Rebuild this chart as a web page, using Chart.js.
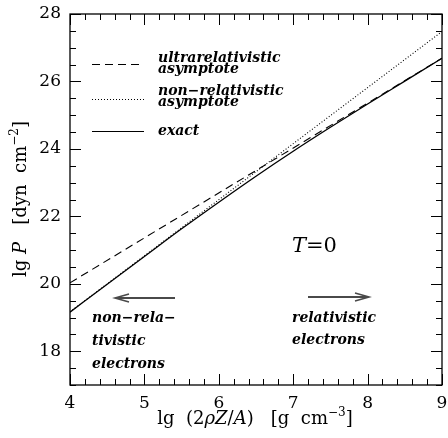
<!DOCTYPE html>
<html>
<head>
<meta charset="utf-8">
<script src="https://cdn.jsdelivr.net/npm/chart.js@4"></script>
<style>
  html, body { margin: 0; padding: 0; background: #fff; }
  canvas { display: block; }
</style>
</head>
<body>
<canvas id="eosChart" width="448" height="438"></canvas>
<script>
// lg(2 rho Z / A) sample points and lg P values
const lgRho = [4, 4.5, 5, 5.5, 6, 6.5, 7, 7.5, 8, 8.5, 9];
const exactP = [19.16, 19.99, 20.81, 21.63, 22.42, 23.19, 23.93, 24.64, 25.33, 26.01, 26.69];

// asymptotes are straight lines, so two points each
const asymRho = [4, 9];
const ultraP = [20.03, 26.69];
const nonRelP = [19.17, 27.48];

const xTicks = [4, 5, 6, 7, 8, 9];
const yTicks = [18, 20, 22, 24, 26, 28];

const SERIF = '"DejaVu Serif", serif';

function toPoints(xs, ys) {
  return xs.map((x, i) => ({ x: x, y: ys[i] }));
}

// draw a row of text pieces with different fonts
function drawParts(ctx, parts, x, y, align) {
  let total = 0;
  parts.forEach((p) => {
    ctx.font = p.font;
    p.w = ctx.measureText(p.text).width;
    total += p.w;
  });
  let cx = align === "center" ? x - total / 2 : x;
  parts.forEach((p) => {
    ctx.font = p.font;
    ctx.fillText(p.text, cx, y + (p.dy || 0));
    cx += p.w;
  });
}

function drawArrow(ctx, x1, x2, y) {
  const dir = x2 > x1 ? 1 : -1;
  ctx.save();
  ctx.strokeStyle = "#4a4a4a";
  ctx.lineWidth = 2.2;
  ctx.beginPath();
  ctx.moveTo(x1, y);
  ctx.lineTo(x2 - dir * 2, y);
  ctx.stroke();
  ctx.lineWidth = 1.6;
  ctx.beginPath();
  ctx.moveTo(x2 - dir * 14, y - 4);
  ctx.lineTo(x2, y);
  ctx.lineTo(x2 - dir * 14, y + 4);
  ctx.stroke();
  ctx.restore();
}

const framePlugin = {
  id: "frame",
  afterDraw(chart) {
    const ctx = chart.ctx;
    const area = chart.chartArea;
    const xs = chart.scales.x;
    const ys = chart.scales.y;

    ctx.save();
    ctx.strokeStyle = "#000";
    ctx.lineWidth = 1.3;
    ctx.setLineDash([]);
    ctx.strokeRect(area.left, area.top, area.right - area.left, area.bottom - area.top);

    // inward ticks on all four sides
    ctx.lineWidth = 1;
    ctx.beginPath();
    for (let i = 0; i <= 25; i++) {
      const v = 4 + i * 0.2;
      const px = Math.round(xs.getPixelForValue(v)) + 0.5;
      const len = i % 5 === 0 ? 11 : 6;
      ctx.moveTo(px, area.bottom);
      ctx.lineTo(px, area.bottom - len);
      ctx.moveTo(px, area.top);
      ctx.lineTo(px, area.top + len);
    }
    for (let i = 0; i <= 22; i++) {
      const v = 17 + i * 0.5;
      const py = Math.round(ys.getPixelForValue(v)) + 0.5;
      const len = v % 2 === 0 ? 11 : 6;
      ctx.moveTo(area.left, py);
      ctx.lineTo(area.left + len, py);
      ctx.moveTo(area.right, py);
      ctx.lineTo(area.right - len, py);
    }
    ctx.stroke();

    ctx.fillStyle = "#000";
    ctx.textBaseline = "alphabetic";

    // axis titles
    const reg = "18px " + SERIF;
    const ita = "italic 18px " + SERIF;
    const sup = "12px " + SERIF;
    drawParts(ctx, [
      { text: "lg  (2", font: reg },
      { text: "ρZ", font: ita },
      { text: "/", font: reg },
      { text: "A", font: ita },
      { text: ")   [g  cm", font: reg },
      { text: "−3", font: sup, dy: -8 },
      { text: "]", font: reg },
    ], 255, 424, "center");

    ctx.save();
    ctx.translate(26, 199);
    ctx.rotate(-Math.PI / 2);
    drawParts(ctx, [
      { text: "lg ", font: reg },
      { text: "P", font: ita },
      { text: "   [dyn  cm", font: reg },
      { text: "−2", font: sup, dy: -8 },
      { text: "]", font: reg },
    ], 0, 0, "center");
    ctx.restore();

    // legend
    const legFont = "italic bold 14px " + SERIF;
    const samples = [
      { y: 64, dash: [8, 5] },
      { y: 99, dash: [1, 2] },
      { y: 131, dash: [] },
    ];
    samples.forEach((s) => {
      ctx.beginPath();
      ctx.setLineDash(s.dash);
      ctx.lineWidth = 1.2;
      ctx.moveTo(92, s.y + 0.5);
      ctx.lineTo(144, s.y + 0.5);
      ctx.stroke();
    });
    ctx.setLineDash([]);
    ctx.font = legFont;
    ctx.fillText("ultrarelativistic", 158, 62);
    ctx.fillText("asymptote", 158, 73);
    ctx.fillText("non−relativistic", 158, 95);
    ctx.fillText("asymptote", 158, 106);
    ctx.fillText("exact", 158, 135);

    // annotations
    drawParts(ctx, [
      { text: "T", font: "italic 21px " + SERIF },
      { text: "=0", font: "21px " + SERIF },
    ], 292, 252, "left");

    drawArrow(ctx, 175, 115, 298);
    drawArrow(ctx, 308, 369, 297);

    ctx.font = legFont;
    ctx.fillText("non−rela−", 92, 322);
    ctx.fillText("tivistic", 92, 345);
    ctx.fillText("electrons", 92, 368);
    ctx.fillText("relativistic", 292, 322);
    ctx.fillText("electrons", 292, 344);
    ctx.restore();
  },
};

const ctx = document.getElementById("eosChart").getContext("2d");
new Chart(ctx, {
  type: "line",
  data: {
    datasets: [
      {
        label: "ultrarelativistic asymptote",
        data: toPoints(asymRho, ultraP),
        borderColor: "#000",
        borderWidth: 1.1,
        borderDash: [8, 5],
        pointRadius: 0,
        fill: false,
      },
      {
        label: "non-relativistic asymptote",
        data: toPoints(asymRho, nonRelP),
        borderColor: "#000",
        borderWidth: 1.1,
        borderDash: [1, 2],
        pointRadius: 0,
        fill: false,
      },
      {
        label: "exact",
        data: toPoints(lgRho, exactP),
        borderColor: "#000",
        borderWidth: 1.3,
        pointRadius: 0,
        cubicInterpolationMode: "monotone",
        fill: false,
      },
    ],
  },
  options: {
    responsive: false,
    animation: false,
    devicePixelRatio: 1,
    layout: { padding: { left: 10, top: 14, right: 6, bottom: 10 } },
    plugins: {
      legend: { display: false },
      tooltip: { enabled: false },
    },
    scales: {
      x: {
        type: "linear",
        min: 4,
        max: 9,
        afterBuildTicks: (s) => { s.ticks = xTicks.map((v) => ({ value: v })); },
        afterFit: (s) => { s.height = 43; s.paddingLeft = 0; s.paddingRight = 0; },
        grid: { display: false, drawTicks: false },
        border: { display: false },
        ticks: { color: "#000", padding: 8, maxRotation: 0, font: { family: SERIF, size: 17 } },
      },
      y: {
        type: "linear",
        min: 17,
        max: 28,
        afterBuildTicks: (s) => { s.ticks = yTicks.map((v) => ({ value: v })); },
        afterFit: (s) => { s.width = 60; s.paddingTop = 0; s.paddingBottom = 0; },
        grid: { display: false, drawTicks: false },
        border: { display: false },
        ticks: { color: "#000", padding: 9, font: { family: SERIF, size: 17 } },
      },
    },
  },
  plugins: [framePlugin],
});
</script>
</body>
</html>
